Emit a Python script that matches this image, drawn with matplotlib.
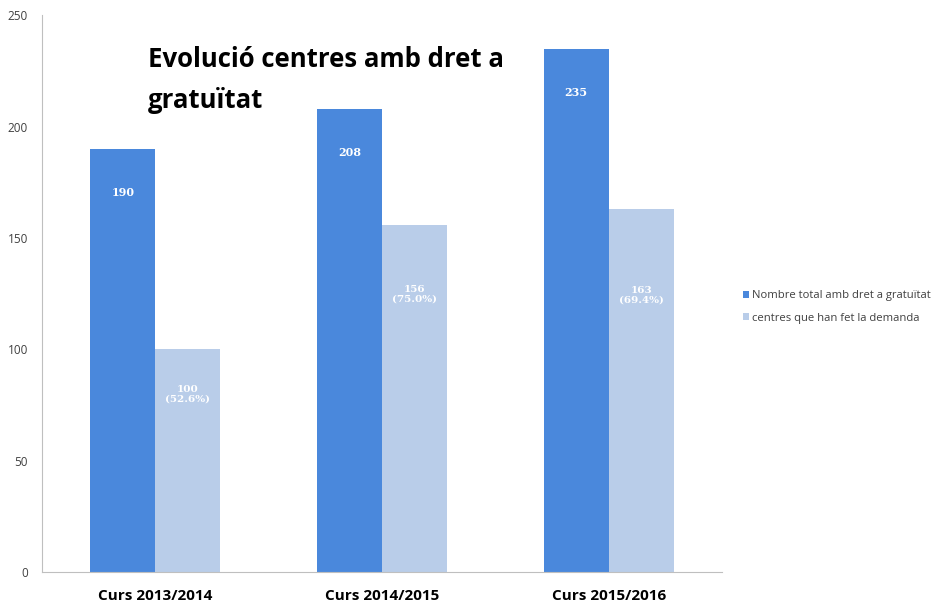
import matplotlib.pyplot as plt
import numpy as np

plt.rcParams['font.family'] = ['Open Sans', 'DejaVu Sans']

cursos = ['Curs 2013/2014', 'Curs 2014/2015', 'Curs 2015/2016']
total_gratuitat = [190, 208, 235]
han_demanat = [100, 156, 163]
pct_labels = ['100\n(52.6%)', '156\n(75.0%)', '163\n(69.4%)']

DARK = '#4a88dc'
LIGHT = '#b9cde9'

fig = plt.figure(figsize=(9.34, 6.09), dpi=100)
ax = fig.add_axes([0.045, 0.0608, 0.728, 0.9142])

x = np.arange(len(cursos))
w = 0.287
b1 = ax.bar(x - w / 2, total_gratuitat, w, color=DARK,
            label='Nombre total amb dret a gratuïtat')
b2 = ax.bar(x + w / 2, han_demanat, w, color=LIGHT,
            label='centres que han fet la demanda')

# labels inside the bars
for rect, v in zip(b1, total_gratuitat):
    ax.annotate(str(v), (rect.get_x() + rect.get_width() / 2, v),
                xytext=(0, -44), textcoords='offset pixels',
                ha='center', va='center', color='white',
                fontsize=8, fontweight='bold', family='DejaVu Serif')
light_off = [-45, -70, -86]
for rect, v, lab, off in zip(b2, han_demanat, pct_labels, light_off):
    ax.annotate(lab, (rect.get_x() + rect.get_width() / 2, v),
                xytext=(0, off), textcoords='offset pixels',
                ha='center', va='center', color='white',
                fontsize=7.5, fontweight='bold', family='DejaVu Serif',
                linespacing=1.1)

ax.set_xlim(-0.5, 2.5)
ax.set_ylim(0, 250)
ax.set_yticks(range(0, 251, 50))
ax.set_xticks(x)
ax.set_xticklabels(cursos, fontsize=11, fontweight='bold')
ax.tick_params(axis='x', length=0, pad=12)
ax.tick_params(axis='y', length=0, labelsize=8.5, labelcolor='#404040', pad=10)
for s in ['top', 'right']:
    ax.spines[s].set_visible(False)
for s in ['left', 'bottom']:
    ax.spines[s].set_color('#bfbfbf')

fig.text(148 / 934, 1 - 80 / 609, 'Evolució centres amb dret a\ngratuïtat',
         fontsize=18.5, fontweight='bold', ha='left', va='center',
         linespacing=1.7)

fig.legend(handles=[b1, b2], loc='center left',
           bbox_to_anchor=(0.785, 1 - 307 / 609), frameon=False,
           fontsize=8.1, handlelength=0.5, handleheight=0.5,
           handletextpad=0.3, labelspacing=1.0, labelcolor='#404040')

fig.savefig('out.png', dpi=100)
